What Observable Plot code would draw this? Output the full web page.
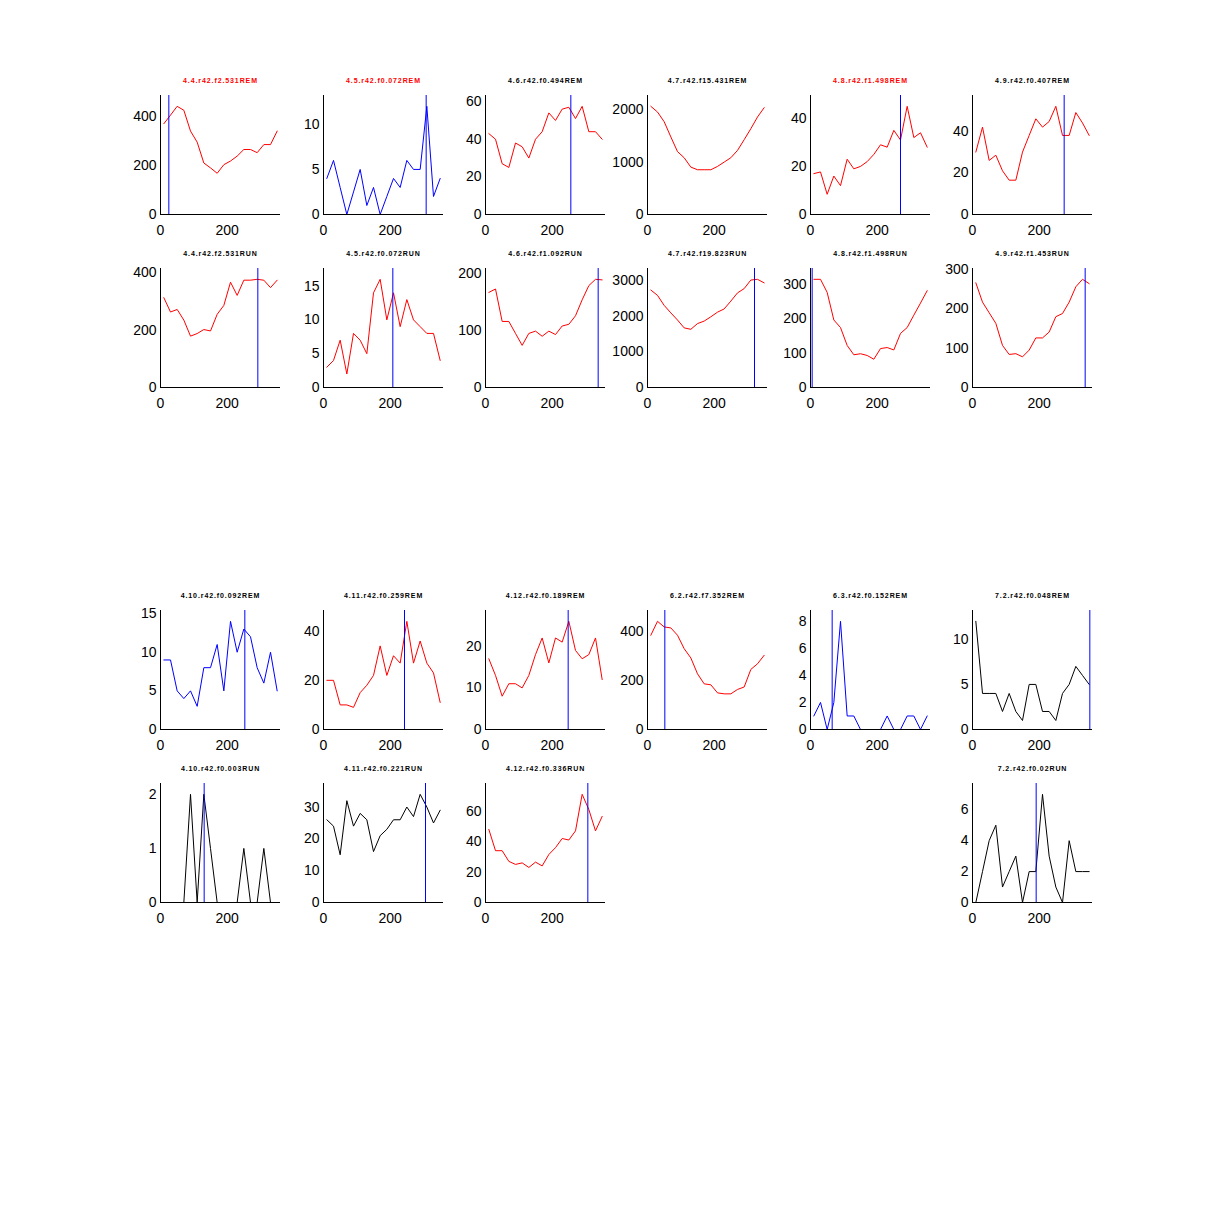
<!DOCTYPE html>
<html><head><meta charset="utf-8">
<script src="https://cdn.jsdelivr.net/npm/d3@7"></script>
<script src="https://cdn.jsdelivr.net/npm/@observablehq/plot@0.6"></script>
<style>
html,body{margin:0;padding:0;background:#fff;}
#fig{position:relative;width:1206px;height:1205px;background:#fff;overflow:hidden;}
#fig svg{position:absolute;overflow:visible;}
</style></head><body><div id="fig"></div>
<script>
// ---- data ----
const angles = [10,30,50,70,90,110,130,150,170,190,210,230,250,270,290,310,330,350];

const titles = [
  "4.4.r42.f2.531REM","4.5.r42.f0.072REM","4.6.r42.f0.494REM","4.7.r42.f15.431REM","4.8.r42.f1.498REM","4.9.r42.f0.407REM",
  "4.4.r42.f2.531RUN","4.5.r42.f0.072RUN","4.6.r42.f1.092RUN","4.7.r42.f19.823RUN","4.8.r42.f1.498RUN","4.9.r42.f1.453RUN",
  "4.10.r42.f0.092REM","4.11.r42.f0.259REM","4.12.r42.f0.189REM","6.2.r42.f7.352REM","6.3.r42.f0.152REM","7.2.r42.f0.048REM",
  "4.10.r42.f0.003RUN","4.11.r42.f0.221RUN","4.12.r42.f0.336RUN","7.2.r42.f0.02RUN"
];

const r44rem = [370,405,441,425,340,295,210,190,168,203,218,238,265,265,252,285,285,340];
const r45rem = [4,6,3,0,2.5,5,1,3,0,2,4,3,6,5,5,12,2,4];
const r46rem = [43,40,27,25,38,36,30,40,44,54,50,56,57,51,57.5,44,44,40];
const r47rem = [2064,1955,1770,1480,1200,1083,904,854,854,854,917,1000,1083,1223,1427,1637,1860,2038];
const r48rem = [17,17.7,8.4,16,12,23,19,20,22,25,29,28,35,31,45,32,34,28];
const r49rem = [30,42,26,28.5,21,16.5,16.5,30,38,46,42,44.7,52,38,38,49,44,38];

const r44run = [313,263,272,235,179,188,202,197,255,286,367,321,374,374,377,374,348,374];
const r45run = [3,4,7,2,8,7,5,14,16,10,14,9,13,10,9,8,8,4];
const r46run = [167,173,116,116,95,74,95,99,90,99,93,108,111,126,154,179,190,189];
const r47run = [2730,2580,2300,2090,1890,1670,1630,1790,1860,1980,2110,2200,2420,2650,2770,3010,3030,2930];
const r48run = [314,314,276,196,174,122,95,98,93,82,113,116,109,157,174,210,245,281];
const r49run = [266,217,190,163,107,84,86,78,95,126,126,141,180,188,217,256,275,264];

const r410rem = [9,9,5,4,5,3,8,8,11,5,14,10,13,12,8,6,10,5];
const r411rem = [20,20,10,10,9,15,18,22,34,22,30,27,44,27,36,27,23,11];
const r412rem = [17,13,8,11,11,10,13,18,22,16,22,21,26,19,17,18,22,12];
const r62rem  = [386,443,420,416,386,331,293,228,187,183,150,146,146,164,174,246,269,304];
const r63rem  = [1,2,0,2,8,1,1,0,0,0,0,1,0,0,1,1,0,1];
const r72rem  = [12,4,4,4,2,4,2,1,5,5,2,2,1,4,5,7,6,5];

const r410run = [0,0,0,0,2,0,2,1,0,0,0,0,1,0,0,1,0,0];
const r411run = [26,24,15,32,24,28,26,16,21,23,26,26,30,27,34,30,25,29];
const r412run = [48,34,34,27,25,26,23,26.5,24,31.5,36,42,41,47,71,61,47,56.5];
const r72run  = [0,2,4,5,1,2,3,0,2,2,7,3,1,0,4,2,2,2];

const series = [r44rem,r45rem,r46rem,r47rem,r48rem,r49rem,
                r44run,r45run,r46run,r47run,r48run,r49run,
                r410rem,r411rem,r412rem,r62rem,r63rem,r72rem,
                r410run,r411run,r412run,r72run];

// vertical marker angle per panel (null = none)
const markers = [25,308,256,null,270,275, 292,208,338,321,5,338, 253,243,248,52,65,352, 131,306,307,191];

// y tick labels per panel
const yTickValues = [
  [0,200,400],[0,5,10],[0,20,40,60],[0,1000,2000],[0,20,40],[0,20,40],
  [0,200,400],[0,5,10,15],[0,100,200],[0,1000,2000,3000],[0,100,200,300],[0,100,200,300],
  [0,5,10,15],[0,20,40],[0,10,20],[0,200,400],[0,2,4,6,8],[0,5,10],
  [0,1,2],[0,10,20,30],[0,20,40,60],[0,2,4,6]
];
const xTickValues = [0,200];

// ---- styles / layout ----
const RED="#ff0000", BLUE="#0000ff", BLACK="#000000";
const lineColors = [RED,BLUE,RED,RED,RED,RED, RED,RED,RED,RED,RED,RED, BLUE,RED,RED,RED,BLUE,BLACK, BLACK,BLACK,RED,BLACK];
const titleColors = [RED,RED,BLACK,BLACK,RED,BLACK, BLACK,BLACK,BLACK,BLACK,BLACK,BLACK, BLACK,BLACK,BLACK,BLACK,BLACK,BLACK, BLACK,BLACK,BLACK,BLACK];
const gridPos = [[0,0],[0,1],[0,2],[0,3],[0,4],[0,5],
                 [1,0],[1,1],[1,2],[1,3],[1,4],[1,5],
                 [2,0],[2,1],[2,2],[2,3],[2,4],[2,5],
                 [3,0],[3,1],[3,2],[3,5]];
const colLeft = [160,323,485,647,810,972];
const rowTop = [95,268,610,783];
const PW = 120, PH = 119;
const ML = 40, MR = 4, MT = 22, MB = 30;
const FONT = "'Liberation Sans', Arial, Helvetica, sans-serif";

const fig = document.getElementById("fig");

series.forEach((vals, i) => {
  const data = angles.map((a, j) => ({a, v: vals[j]}));
  const ymax = 1.1 * d3.max(vals);
  const marks = [
    Plot.line(data, {x: "a", y: "v", stroke: lineColors[i], strokeWidth: 1})
  ];
  if (markers[i] != null) marks.push(Plot.ruleX([markers[i]], {stroke: BLUE, strokeWidth: 1}));
  marks.push(
    Plot.ruleX([0], {stroke: BLACK, strokeWidth: 1}),
    Plot.ruleY([0], {stroke: BLACK, strokeWidth: 1}),
    Plot.axisX({ticks: xTickValues, tickSize: 0, tickPadding: 11, tickFormat: d => String(d), label: null, fontSize: 14}),
    Plot.axisY({ticks: yTickValues[i], tickSize: 0, tickPadding: 4, tickFormat: d => String(d), label: null, fontSize: 14}),
    Plot.text([titles[i]], {frameAnchor: "top", lineAnchor: "bottom", dy: -13, fill: titleColors[i], fontSize: 7, fontWeight: "bold"})
  );
  const svg = Plot.plot({
    width: ML + PW + MR,
    height: MT + PH + MB,
    marginLeft: ML, marginRight: MR, marginTop: MT, marginBottom: MB,
    x: {domain: [0, 360], label: null},
    y: {domain: [0, ymax], label: null},
    style: {fontFamily: FONT, fontSize: "14px", background: "transparent", color: "black", overflow: "visible"},
    marks
  });
  d3.select(svg).selectAll('g[aria-label="text"] text').attr("letter-spacing", "0.9");
  const [r, c] = gridPos[i];
  svg.style.position = "absolute";
  svg.style.left = (colLeft[c] - ML) + "px";
  svg.style.top = (rowTop[r] - MT) + "px";
  svg.style.maxWidth = "none";
  fig.appendChild(svg);
});
</script></body></html>
